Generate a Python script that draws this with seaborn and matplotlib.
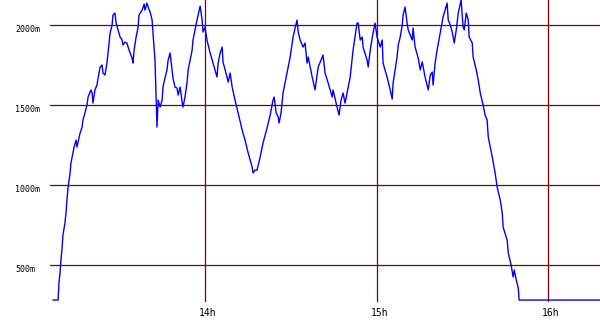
import matplotlib
matplotlib.use("Agg")
import matplotlib.pyplot as plt
import matplotlib.transforms as mtransforms
import seaborn as sns
import pandas as pd

# minutes after 13:00
minutes = [6.8, 8.6, 8.9, 9.3, 9.6, 10.0, 10.3, 11.0, 11.4, 11.7, 12.1, 12.8, 13.1, 13.8, 14.2, 14.9,
           15.2, 15.6, 16.3, 17.0, 17.3, 18.0, 18.7, 19.1, 20.1, 20.5, 20.8, 21.5, 22.2, 22.6, 23.3,
           24.0, 24.3, 25.0, 25.7, 26.1, 26.8, 27.5, 27.8, 28.5, 28.9, 29.6, 30.3, 31.0, 31.3, 32.0,
           32.7, 33.1, 33.8, 34.5, 34.8, 35.2, 35.9, 36.6, 36.9, 38.0, 38.7, 39.0, 39.7, 40.1, 40.8,
           41.5, 41.8, 42.5, 42.9, 43.2, 43.6, 44.3, 45.0, 45.3, 46.0, 46.7, 47.1, 47.8, 48.5, 48.8,
           49.5, 50.2, 50.6, 51.3, 52.0, 52.3, 53.0, 53.7, 54.1, 54.8, 55.5, 55.8, 56.5, 57.2, 58.3,
           59.0, 59.3, 60.0, 60.7, 61.8, 62.8, 64.2, 64.6, 65.3, 66.0, 66.3, 67.7, 68.1, 68.8, 69.5,
           70.5, 71.6, 73.0, 74.0, 75.1, 76.5, 76.8, 77.5, 78.2, 79.3, 80.3, 81.7, 82.8, 83.8, 84.2,
           84.9, 85.6, 85.9, 86.6, 87.3, 88.7, 89.8, 90.8, 92.2, 92.6, 93.3, 94.3, 95.0, 95.7, 96.1,
           97.5, 98.5, 99.6, 101.0, 101.3, 102.0, 103.1, 104.5, 104.8, 106.2, 106.9, 107.6, 108.3,
           109.0, 109.7, 110.8, 111.8, 113.2, 113.6, 114.3, 115.0, 115.3, 116.7, 117.1, 117.8, 118.8,
           119.5, 120.2, 121.3, 122.0, 122.3, 123.7, 124.8, 125.5, 125.8, 126.5, 127.2, 127.6, 128.3,
           129.0, 129.3, 130.0, 130.7, 131.1, 132.5, 132.8, 133.5, 134.6, 135.3, 136.0, 137.0, 138.1,
           138.8, 139.5, 139.8, 140.5, 141.2, 142.3, 143.3, 144.7, 145.1, 145.8, 146.5, 147.2, 147.9,
           148.6, 149.6, 150.3, 150.7, 151.4, 152.1, 152.4, 153.5, 153.8, 154.9, 155.6, 156.3, 157.3,
           158.0, 158.7, 159.1, 160.5, 161.5, 162.2, 163.3, 164.0, 164.3, 165.7, 166.1, 167.1, 167.8,
           168.2, 168.9, 169.6, 169.9, 198.3]
altitude = [281, 281, 387, 456, 531, 606, 687, 762, 831, 906, 987, 1075, 1137, 1200, 1237, 1281,
            1237, 1268, 1325, 1362, 1406, 1450, 1500, 1550, 1594, 1575, 1512, 1594, 1625, 1668, 1737,
            1750, 1700, 1687, 1762, 1831, 1950, 2000, 2062, 2075, 2012, 1968, 1925, 1906, 1875, 1893,
            1887, 1862, 1825, 1793, 1762, 1843, 1925, 1987, 2062, 2093, 2131, 2093, 2137, 2112, 2081,
            2031, 1950, 1781, 1531, 1362, 1531, 1487, 1531, 1612, 1668, 1719, 1781, 1825, 1719, 1668,
            1612, 1606, 1562, 1612, 1518, 1487, 1550, 1637, 1719, 1781, 1843, 1906, 1969, 2031, 2118,
            2031, 1956, 1987, 1906, 1825, 1762, 1675, 1762, 1825, 1862, 1769, 1675, 1643, 1700, 1612,
            1531, 1450, 1343, 1281, 1200, 1112, 1075, 1093, 1093, 1175, 1262, 1356, 1437, 1531, 1550,
            1450, 1425, 1387, 1450, 1575, 1700, 1800, 1925, 2031, 1956, 1906, 1862, 1887, 1762, 1800,
            1675, 1594, 1737, 1800, 1812, 1700, 1637, 1550, 1594, 1487, 1437, 1531, 1575,
            1512, 1575, 1675, 1843, 2012, 2012, 1906, 1925, 1862, 1781, 1737, 1843, 1950,
            2012, 1925, 1862, 1906, 1762, 1675, 1594, 1537, 1637, 1719, 1800, 1875, 1925,
            2000, 2062, 2112, 2012, 1969, 1906, 1981, 1862, 1793, 1719, 1769, 1675, 1594,
            1687, 1706, 1625, 1762, 1843, 1950, 2050, 2137, 2031, 2000, 1956, 1887, 1969,
            2075, 2156, 1987, 1969, 2075, 2031, 1925, 1887, 1800, 1719, 1656, 1575, 1500,
            1437, 1406, 1300, 1175, 1075, 987, 906, 825, 737, 656, 575, 500, 425,
            469, 406, 356, 281, 281]

y_ticks = [500, 1000, 1500, 2000]
y_labels = ["500m", "1000m", "1500m", "2000m"]
x_ticks = [14, 15, 16]
x_labels = ["14h", "15h", "16h"]

df = pd.DataFrame({"hour": [13 + m / 60 for m in minutes], "alt": altitude})

sns.set_style("white")
plt.rcParams["font.family"] = ["DejaVu Sans Mono", "DejaVu Sans"]

fig = plt.figure(figsize=(6, 3.3), dpi=100)
# axes from pixel x=50..600, y=-1..301.5 (top to bottom)
ax = fig.add_axes([50 / 600, 28.5 / 330, 550 / 600, 302.5 / 330])

grid_c = "#800000"
for v in y_ticks:
    ax.axhline(v, color=grid_c, lw=0.9, zorder=1)
for v in x_ticks:
    ax.axvline(v, color=grid_c, lw=0.9, zorder=1)

sns.lineplot(data=df, x="hour", y="alt", ax=ax, color="#0000ff", lw=1.0,
             estimator=None, sort=False, zorder=3)

ax.set_xlim(13.0962, 16.3032)
ax.set_ylim(281.25 - 6.25 * 1.5, 2156.25 + 6.25)
ax.set_xticks([])
ax.set_yticks([])
ax.set_xlabel("")
ax.set_ylabel("")
for s in ax.spines.values():
    s.set_visible(False)

ylab_tr = mtransforms.blended_transform_factory(fig.transFigure, ax.transData)
ylab_tr = ylab_tr + mtransforms.ScaledTranslation(0, -4 / 100, fig.dpi_scale_trans)
for v, lab in zip(y_ticks, y_labels):
    ax.text(15 / 600, v, lab, transform=ylab_tr, ha="left", va="center",
            fontsize=6, color="black")

xlab_tr = mtransforms.blended_transform_factory(ax.transData, fig.transFigure)
xlab_tr = xlab_tr + mtransforms.ScaledTranslation(3 / 100, 0, fig.dpi_scale_trans)
for v, lab in zip(x_ticks, x_labels):
    ax.text(v, 1 - 313 / 330, lab, transform=xlab_tr, ha="center", va="center",
            fontsize=7, color="black")

fig.savefig("out.png", dpi=100, facecolor="white")
